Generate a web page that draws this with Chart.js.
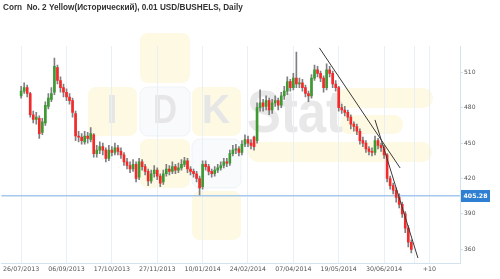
<!DOCTYPE html>
<html lang="ru">
<head>
<meta charset="UTF-8">
<title>Corn No. 2 Yellow | Daily</title>
<script src="https://cdn.jsdelivr.net/npm/chart.js"></script>
<style>
	html, body { margin: 0; padding: 0; background: #fff; }
</style>
</head>
<body>
<canvas id="mainChart" width="500" height="279"></canvas>
<script>
const chartTitle = "Corn  No. 2 Yellow(Исторический), 0.01 USD/BUSHELS, Daily"

// one candle per two trading days
const opens  = [490,494,497,492,474,470,471,459,467,481,487,493,514,503,497,493,489,486,475,456,
	455,451,456,453,457,441,444,447,444,437,444,442,446,443,440,434,431,428,432,421,
	434,430,426,418,424,427,422,417,424,428,426,430,427,429,432,435,428,426,424,420,
	413,432,430,426,424,427,429,431,434,433,441,444,445,442,449,453,450,455,452,480,
	484,481,486,478,484,486,482,490,494,502,497,505,500,501,497,492,490,505,512,509,
	505,497,512,509,500,497,480,478,476,472,466,464,460,452,450,445,443,442,452,448,
	446,440,420,414,410,404,398,390,378,366]
const closes = [494,497,492,474,470,472,458,468,482,488,492,515,503,497,493,489,486,476,456,455,
	452,456,454,458,441,444,447,444,437,444,442,446,443,440,434,431,428,432,420,434,
	430,426,418,424,427,422,416,424,428,426,430,427,429,432,435,428,426,424,420,412,
	432,430,426,424,427,429,431,434,433,441,444,445,442,449,453,450,448,447,480,484,
	481,486,478,484,486,482,490,494,502,497,505,500,501,497,492,490,505,512,509,505,
	497,512,509,500,497,480,478,476,472,466,464,460,452,450,445,443,442,452,448,446,
	440,420,414,410,404,398,390,378,366,360]
const highs  = [498,501,499,493,477,476,473,471,485,492,497,522,516,506,500,496,492,488,477,460,
	458,460,459,463,458,448,451,450,446,448,447,450,448,446,442,437,434,436,434,437,
	436,432,428,427,431,429,424,427,432,431,434,432,433,436,438,437,430,428,426,422,
	435,435,432,428,430,432,434,437,437,444,448,449,447,452,457,456,453,456,484,495,
	487,490,488,487,490,488,493,498,506,504,509,527,505,504,499,494,508,516,515,511,
	507,517,515,511,503,498,483,481,478,474,468,466,462,455,452,447,446,456,454,450,
	448,441,422,416,412,407,400,392,380,368]
const lows   = [488,492,489,472,467,466,454,457,465,479,485,491,500,493,489,486,483,472,452,451,
	449,449,450,451,438,438,441,440,434,435,439,440,440,437,431,428,425,426,417,419,
	427,423,414,416,421,419,413,415,422,423,424,424,425,427,430,425,423,421,417,406,
	411,427,423,421,422,425,427,429,430,431,439,441,439,440,447,447,445,444,450,477,
	477,478,474,475,481,478,480,487,491,494,495,497,497,494,489,485,488,503,506,502,
	493,495,506,497,494,477,475,473,469,462,460,457,449,447,442,440,439,440,445,443,
	437,417,411,407,400,395,387,374,362,357]

const lastPrice = 405.28
const yTicks = [360, 390, 420, 450, 480, 510]
const xTickIdx = [0, 15, 30, 45, 60, 75, 90, 105, 120, 130.2, 135]
const xTickLabels = ["26/07/2013", "06/09/2013", "17/10/2013", "27/11/2013", "10/01/2014",
	"24/02/2014", "07/04/2014", "19/05/2014", "30/06/2014", "", "+10"]

// hand drawn trend lines (candle index, price)
const trendA = [{x: 98.6, y: 530.6}, {x: 125.3, y: 428.9}]
const trendB = [{x: 117.0, y: 469.6}, {x: 131.2, y: 352.6}]

const X_MIN = -6.6, X_MAX = 145.1
const UP = "#3d9a33", DOWN = "#f42a2a"

const watermark = {
	id: "watermark",
	beforeDraw(chart) {
		const c = chart.ctx
		c.save()
		c.fillStyle = "#fff"
		c.fillRect(0, 0, chart.width, chart.height)
		const yellow = "#fef9e3", pale = "#f8fafc"
		const box = (x, y, w, h, r, fill, stroke) => {
			c.beginPath()
			c.roundRect(x, y, w, h, r)
			c.fillStyle = fill
			c.fill()
			if(stroke) { c.strokeStyle = stroke; c.lineWidth = 1; c.stroke() }
		}
		box(140, 33, 50, 50, 8, yellow)
		box(88, 87, 49, 49, 8, yellow)
		box(140, 87, 50, 49, 8, pale, "#eff3f7")
		box(192, 87, 49, 49, 8, yellow)
		box(140, 139, 50, 49, 8, yellow)
		box(192, 139, 49, 49, 8, pale, "#eff3f7")
		box(192, 191, 49, 49, 8, yellow)
		box(337, 88, 96, 20, 10, yellow)
		box(340, 115, 63, 19, 9, yellow)
		box(248, 142, 184, 20, 10, yellow)
		c.fillStyle = "#e6e6e6"
		c.font = "bold 40px 'Liberation Sans'"
		c.textAlign = "center"
		c.textBaseline = "middle"
		c.fillText("I", 112, 112)
		c.fillText("D", 165, 112, 24)
		c.fillText("K", 216, 112, 28)
		c.fillStyle = "#e8e8e8"
		c.font = "bold 60px 'Liberation Sans'"
		c.textAlign = "left"
		c.textBaseline = "alphabetic"
		c.fillText("Stat", 247, 132, 96)
		c.restore()
	},
	afterDraw(chart) {
		const c = chart.ctx
		const y = Math.round(chart.scales.y.getPixelForValue(lastPrice))
		c.save()
		c.fillStyle = "#2e7fd2"
		c.fillRect(461, y - 6, 29, 12)
		c.fillStyle = "#fff"
		c.font = "bold 6.2px 'DejaVu Sans'"
		c.textAlign = "center"
		c.textBaseline = "middle"
		c.fillText(lastPrice.toFixed(2), 475.5, y + 0.5)
		c.textAlign = "left"
		c.fillStyle = "#333"
		c.font = "bold 8.2px 'Liberation Sans'"
		c.fillText(chartTitle, 3, 8)
		c.restore()
	}
}

new Chart(document.getElementById("mainChart"), {
	type: "bar",
	data: {
		datasets: [
			{
				type: "line",
				data: [{x: X_MIN, y: lastPrice}, {x: X_MAX, y: lastPrice}],
				borderColor: "#a6c8ec",
				borderWidth: 1.5,
				pointRadius: 0,
				order: 6
			},
			{
				data: lows.map((l, i) => ({x: i, y: [l, highs[i]]})),
				backgroundColor: "#7f7f7f",
				barThickness: 1,
				grouped: false,
				order: 5
			},
			{
				data: opens.map((o, i) => ({x: i, y: [o, closes[i]]})),
				backgroundColor: opens.map((o, i) => closes[i] >= o ? UP : DOWN),
				barThickness: 2,
				minBarLength: 1,
				grouped: false,
				order: 4
			},
			{
				type: "line",
				data: trendA,
				borderColor: "#3a3a3a",
				borderWidth: 1,
				pointRadius: 0,
				order: 1
			},
			{
				type: "line",
				data: trendB,
				borderColor: "#3a3a3a",
				borderWidth: 1,
				pointRadius: 0,
				order: 1
			}
		]
	},
	options: {
		responsive: false,
		animation: false,
		devicePixelRatio: 1,
		layout: {padding: {top: 46, left: 0, right: 0, bottom: 0}},
		plugins: {legend: {display: false}, tooltip: {enabled: false}},
		scales: {
			x: {
				type: "linear",
				min: X_MIN,
				max: X_MAX,
				offset: false,
				grid: {offset: false, color: "#e8f0f6", drawTicks: false},
				border: {color: "#d3e2ef"},
				afterBuildTicks: axis => { axis.ticks = xTickIdx.map(v => ({value: v})) },
				afterFit: axis => { axis.height = 16 },
				ticks: {
					autoSkip: false,
					maxRotation: 0,
					padding: 3,
					color: "#555",
					font: {family: "DejaVu Sans", size: 6.3},
					callback: value => xTickLabels[xTickIdx.indexOf(value)] ?? ""
				}
			},
			y: {
				position: "right",
				min: 348.4,
				max: 532.2,
				grid: {drawOnChartArea: false, tickLength: 3, color: "#d3e2ef"},
				border: {color: "#d3e2ef"},
				afterBuildTicks: axis => { axis.ticks = yTicks.map(v => ({value: v})) },
				afterFit: axis => { axis.width = 40 },
				ticks: {
					padding: 1,
					color: "#555",
					font: {family: "DejaVu Sans", size: 6}
				}
			}
		}
	},
	plugins: [watermark]
})
</script>
</body>
</html>
